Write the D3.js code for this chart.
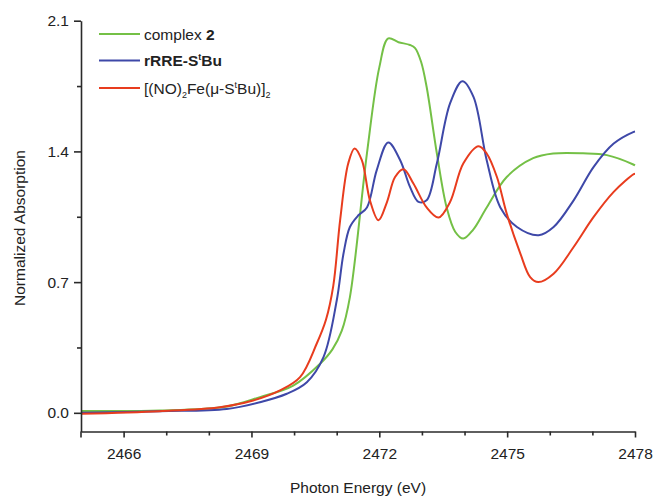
<!DOCTYPE html>
<html>
<head>
<meta charset="utf-8">
<script src="https://cdn.jsdelivr.net/npm/d3@7"></script>
<style>
  html, body { margin: 0; padding: 0; background: #ffffff; }
  svg { display: block; font-family: "Liberation Sans", Arial, Helvetica, sans-serif; }
</style>
</head>
<body>
<svg id="chart" width="654" height="499"></svg>
<script>
// ---------- data ----------
const seriesNames = ["complex 2", "rRRE-StBu", "[(NO)2Fe(μ-StBu)]2"];
const seriesColors = ["#74c046", "#3e48a8", "#e83c1e"];

const complex2Energy = [2465, 2466.85, 2468.42, 2469.2, 2469.98, 2470.61, 2470.9, 2471.12, 2471.31, 2471.71, 2472.0, 2472.21, 2472.45, 2472.72, 2472.84, 2472.98, 2473.11, 2473.35, 2473.58, 2473.78, 2473.97, 2474.2, 2474.52, 2474.99, 2475.61, 2476.08, 2476.78, 2477.34, 2477.96, 2478];
const complex2Value  = [0.01, 0.012, 0.034, 0.084, 0.146, 0.263, 0.34, 0.44, 0.62, 1.39, 1.85, 2.005, 1.985, 1.97, 1.953, 1.88, 1.746, 1.39, 1.10, 0.97, 0.933, 0.98, 1.10, 1.263, 1.364, 1.389, 1.39, 1.38, 1.33, 1.325];

const rrreEnergy = [2465, 2466.85, 2468.42, 2469.2, 2469.83, 2470.3, 2470.69, 2471.0, 2471.16, 2471.31, 2471.51, 2471.71, 2471.94, 2472.21, 2472.49, 2472.72, 2472.92, 2473.11, 2473.35, 2473.66, 2473.95, 2474.21, 2474.52, 2474.84, 2475.23, 2475.74, 2476.09, 2476.56, 2477.03, 2477.5, 2477.97, 2478];
const rrreValue  = [0.0, 0.009, 0.021, 0.057, 0.102, 0.164, 0.298, 0.60, 0.853, 0.995, 1.058, 1.10, 1.30, 1.448, 1.353, 1.21, 1.13, 1.138, 1.335, 1.657, 1.776, 1.692, 1.353, 1.10, 0.995, 0.951, 0.995, 1.138, 1.317, 1.442, 1.505, 1.507];

const feEnergy = [2465, 2466.85, 2468.26, 2469.04, 2469.67, 2470.14, 2470.53, 2470.75, 2470.92, 2471.08, 2471.27, 2471.42, 2471.59, 2471.78, 2471.98, 2472.18, 2472.37, 2472.57, 2472.8, 2473.11, 2473.39, 2473.66, 2473.97, 2474.33, 2474.52, 2474.76, 2474.99, 2475.31, 2475.54, 2475.73, 2476.09, 2476.56, 2477.03, 2477.5, 2477.97, 2478];
const feValue  = [-0.005, 0.009, 0.030, 0.066, 0.12, 0.191, 0.37, 0.50, 0.68, 1.031, 1.335, 1.416, 1.353, 1.138, 1.031, 1.129, 1.263, 1.305, 1.228, 1.10, 1.046, 1.129, 1.335, 1.428, 1.389, 1.263, 1.067, 0.853, 0.727, 0.70, 0.745, 0.888, 1.049, 1.183, 1.278, 1.28];

const xMajorTicks = [2466, 2469, 2472, 2475, 2478];
const xMinorTicks = [2467, 2468, 2470, 2471, 2473, 2474, 2476, 2477];
const yMajorTicks = [0.0, 0.7, 1.4, 2.1];
const yMinorTicks = [0.35, 1.05, 1.75];

const xLabel = "Photon Energy (eV)";
const yLabel = "Normalized Absorption";

// ---------- layout ----------
const svg = d3.select("#chart");
const x = d3.scaleLinear().domain([2465, 2478]).range([81, 635]);
const y = d3.scaleLinear().domain([-0.1, 2.1]).range([431.5, 20.7]);
const fontSize = 15.5;
const axisColor = "#2a2a2a";
const textColor = "#222222";

const series = [
  { name: seriesNames[0], color: seriesColors[0], pts: complex2Energy.map((e, i) => [e, complex2Value[i]]) },
  { name: seriesNames[1], color: seriesColors[1], pts: rrreEnergy.map((e, i) => [e, rrreValue[i]]) },
  { name: seriesNames[2], color: seriesColors[2], pts: feEnergy.map((e, i) => [e, feValue[i]]) }
];

const line = d3.line()
  .x(d => x(d[0]))
  .y(d => y(d[1]))
  .curve(d3.curveCatmullRom.alpha(0.5));

svg.append("g").selectAll("path")
  .data(series)
  .join("path")
  .attr("d", d => line(d.pts))
  .attr("fill", "none")
  .attr("stroke", d => d.color)
  .attr("stroke-width", 2)
  .attr("stroke-linejoin", "round");

// x axis
const xAxisG = svg.append("g").attr("transform", `translate(0,${y(-0.1)})`);
xAxisG.call(d3.axisBottom(x).tickValues(xMajorTicks).tickSize(6).tickSizeOuter(0).tickFormat(d3.format("d")));
xAxisG.append("g").call(d3.axisBottom(x).tickValues(xMinorTicks).tickSize(4).tickSizeOuter(0).tickFormat(""))
  .select(".domain").remove();
xAxisG.selectAll(".domain, line").attr("stroke", axisColor).attr("stroke-width", 1.6);
xAxisG.selectAll("text").attr("font-size", fontSize).attr("fill", textColor).attr("dy", "1.2em")
  .attr("font-family", "Liberation Sans, Arial, sans-serif");
xAxisG.append("line").attr("x1", x(2465)).attr("x2", x(2465)).attr("y1", 0).attr("y2", 6)
  .attr("stroke", axisColor).attr("stroke-width", 1.6);

// y axis
const yAxisG = svg.append("g").attr("transform", `translate(${x(2465)},0)`);
yAxisG.call(d3.axisLeft(y).tickValues(yMajorTicks).tickSize(7).tickSizeOuter(0).tickFormat(d3.format(".1f")));
yAxisG.append("g").call(d3.axisLeft(y).tickValues(yMinorTicks).tickSize(4).tickSizeOuter(0).tickFormat(""))
  .select(".domain").remove();
yAxisG.selectAll(".domain, line").attr("stroke", axisColor).attr("stroke-width", 1.6);
yAxisG.selectAll("text").attr("font-size", fontSize).attr("fill", textColor).attr("x", -12)
  .attr("font-family", "Liberation Sans, Arial, sans-serif");

// axis titles
svg.append("text")
  .attr("x", (x(2465) + x(2478)) / 2)
  .attr("y", 493)
  .attr("text-anchor", "middle")
  .attr("font-size", fontSize)
  .attr("fill", textColor)
  .text(xLabel);

svg.append("text")
  .attr("transform", `translate(25,228) rotate(-90)`)
  .attr("text-anchor", "middle")
  .attr("font-size", fontSize)
  .attr("fill", textColor)
  .text(yLabel);

// legend
const legendY = [34, 60.5, 88];
const legend = svg.append("g");
series.forEach((s, i) => {
  legend.append("line")
    .attr("x1", 99).attr("x2", 140)
    .attr("y1", legendY[i]).attr("y2", legendY[i])
    .attr("stroke", s.color).attr("stroke-width", 2);
});
const lt = (i) => legend.append("text")
  .attr("x", 144).attr("y", legendY[i] + 5.5)
  .attr("font-size", fontSize).attr("fill", textColor);

const t0 = lt(0);
t0.append("tspan").text("complex ");
t0.append("tspan").attr("font-weight", "bold").text("2");

const t1 = lt(1).attr("font-weight", "bold");
t1.append("tspan").text("rRRE-S");
t1.append("tspan").attr("font-size", 9).attr("dy", -6).text("t");
t1.append("tspan").attr("dy", 6).text("Bu");

const t2 = lt(2);
t2.append("tspan").text("[(NO)");
t2.append("tspan").attr("font-size", 9).attr("dy", 4).text("2");
t2.append("tspan").attr("dy", -4).text("Fe(μ-S");
t2.append("tspan").attr("font-size", 9).attr("dy", -6).text("t");
t2.append("tspan").attr("dy", 6).text("Bu)]");
t2.append("tspan").attr("font-size", 9).attr("dy", 4).text("2");
</script>
</body>
</html>
